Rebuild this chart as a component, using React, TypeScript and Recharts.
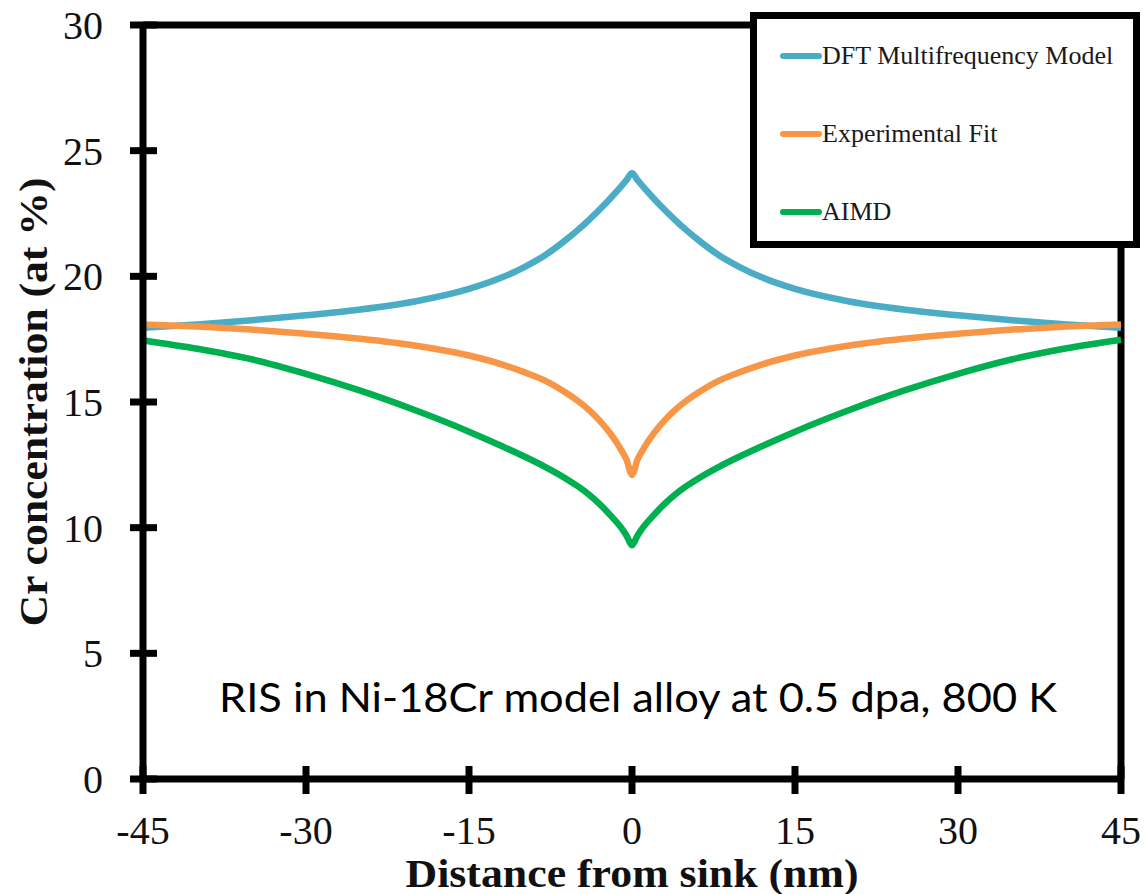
import React from 'react';
import { LineChart, Line, XAxis, YAxis, ReferenceLine, Legend, Label } from 'recharts';

const distance = [-45, -40, -35, -30, -25, -20, -15, -12, -10, -8, -6, -5, -4, -3, -2, -1, -0.5, 0, 0.5, 1, 2, 3, 4, 5, 6, 8, 10, 12, 15, 20, 25, 30, 35, 40, 45];
const dftModel = [17.95, 18.08, 18.25, 18.45, 18.68, 19.0, 19.5, 19.95, 20.35, 20.84, 21.48, 21.84, 22.23, 22.65, 23.1, 23.58, 23.84, 24.1, 23.84, 23.58, 23.1, 22.65, 22.23, 21.84, 21.48, 20.84, 20.35, 19.95, 19.5, 19.0, 18.68, 18.45, 18.25, 18.08, 17.95];
const expFit = [18.08, 18.0, 17.88, 17.72, 17.52, 17.25, 16.85, 16.5, 16.2, 15.85, 15.35, 15.05, 14.7, 14.27, 13.75, 13.1, 12.7, 12.1, 12.7, 13.1, 13.75, 14.27, 14.7, 15.05, 15.35, 15.85, 16.2, 16.5, 16.85, 17.25, 17.52, 17.72, 17.88, 18.0, 18.08];
const aimd = [17.45, 17.12, 16.7, 16.12, 15.45, 14.68, 13.82, 13.25, 12.85, 12.42, 11.93, 11.65, 11.33, 10.95, 10.5, 10.0, 9.68, 9.3, 9.68, 10.0, 10.5, 10.95, 11.33, 11.65, 11.93, 12.42, 12.85, 13.25, 13.82, 14.68, 15.45, 16.12, 16.7, 17.14, 17.48];

const xTicks = [-45, -30, -15, 0, 15, 30, 45];
const yTicks = [0, 5, 10, 15, 20, 25, 30];

const SERIES = [
  { key: 'dft', name: 'DFT Multifrequency Model', color: '#4bacc6' },
  { key: 'exp', name: 'Experimental Fit', color: '#f79646' },
  { key: 'aimd', name: 'AIMD', color: '#00b050' }
];

const SERIF = "'Liberation Serif', 'Times New Roman', serif";

const data = distance.map((x, i) => ({ x, dft: dftModel[i], exp: expFit[i], aimd: aimd[i] }));

const YTick = (props: any) => {
  const { x, y, payload } = props;
  return (
    <g>
      <line x1={x - 13} x2={x + 14} y1={y} y2={y} stroke="#000" strokeWidth={7} />
      <text x={x - 40} y={y + 14} textAnchor="end" fontFamily={SERIF} fontSize={40} fill="#111">
        {payload.value}
      </text>
    </g>
  );
};

const XTick = (props: any) => {
  const { x, y, payload } = props;
  return (
    <g>
      <line x1={x} x2={x} y1={y - 13} y2={y + 15} stroke="#000" strokeWidth={7} />
      <text x={x} y={y + 65} textAnchor="middle" fontFamily={SERIF} fontSize={40} fill="#111">
        {payload.value}
      </text>
    </g>
  );
};

const LegendBox = () => (
  <div
    style={{
      position: 'relative',
      width: 390,
      height: 236,
      boxSizing: 'border-box',
      border: '7px solid #000',
      background: '#fff'
    }}
  >
    {SERIES.map((s, i) => (
      <div key={s.key} style={{ position: 'absolute', left: 23, top: 22 + i * 78, display: 'flex', alignItems: 'center' }}>
        <span style={{ display: 'inline-block', width: 42, height: 6, borderRadius: 3, background: s.color }} />
        <span style={{ fontFamily: SERIF, fontSize: 26, color: '#1a1a1a', lineHeight: '30px' }}>{s.name}</span>
      </div>
    ))}
  </div>
);

export default function App() {
  return (
    <div style={{ position: 'absolute', left: 0, top: 0, width: 1147, height: 894, background: '#fff' }}>
      <LineChart width={1147} height={894} data={data} margin={{ top: 25, right: 26, left: 83, bottom: 55 }}>
        <XAxis
          dataKey="x"
          type="number"
          domain={[-45, 45]}
          ticks={xTicks}
          height={60}
          tickSize={0}
          tickMargin={0}
          tick={<XTick />}
          axisLine={{ stroke: '#000', strokeWidth: 7 }}
          tickLine={false}
        >
          <Label
            content={({ viewBox }: any) => (
              <text
                x={viewBox.x + viewBox.width / 2}
                y={viewBox.y + 108}
                textAnchor="middle"
                fontFamily={SERIF}
                fontWeight="bold"
                fontSize={39}
                textLength={453}
                lengthAdjust="spacingAndGlyphs"
                fill="#111"
              >
                Distance from sink (nm)
              </text>
            )}
          />
        </XAxis>
        <YAxis
          type="number"
          domain={[0, 30]}
          ticks={yTicks}
          width={60}
          tickSize={0}
          tickMargin={0}
          tick={<YTick />}
          axisLine={{ stroke: '#000', strokeWidth: 7 }}
          tickLine={false}
        >
          <Label
            content={({ viewBox }: any) => {
              const cx = 47;
              const cy = viewBox.y + viewBox.height / 2;
              return (
                <text
                  x={cx}
                  y={cy}
                  transform={`rotate(-90, ${cx}, ${cy})`}
                  textAnchor="middle"
                  fontFamily={SERIF}
                  fontWeight="bold"
                  fontSize={40}
                  textLength={449}
                  lengthAdjust="spacingAndGlyphs"
                  fill="#111"
                >
                  Cr concentration (at %)
                </text>
              );
            }}
          />
        </YAxis>
        <ReferenceLine y={30} stroke="#000" strokeWidth={7} />
        <ReferenceLine x={45} stroke="#000" strokeWidth={7} />
        {SERIES.map((s) => (
          <Line
            key={s.key}
            type="monotone"
            dataKey={s.key}
            name={s.name}
            stroke={s.color}
            strokeWidth={6.5}
            strokeLinejoin="round"
            dot={false}
            activeDot={false}
            isAnimationActive={false}
          />
        ))}
        <Legend
          layout="vertical"
          align="center"
          verticalAlign="middle"
          content={() => <LegendBox />}
          wrapperStyle={{ left: 750, top: 12, width: 390, height: 236 }}
        />
      </LineChart>
      <svg width={1147} height={894} style={{ position: 'absolute', left: 0, top: 0, pointerEvents: 'none' }}>
        <text
          x={638}
          y={712}
          textAnchor="middle"
          fontFamily="Lato, 'Open Sans', sans-serif"
          fontSize={41}
          textLength={838}
          lengthAdjust="spacingAndGlyphs"
          fill="#000"
        >
          RIS in Ni-18Cr model alloy at 0.5 dpa, 800 K
        </text>
      </svg>
    </div>
  );
}
